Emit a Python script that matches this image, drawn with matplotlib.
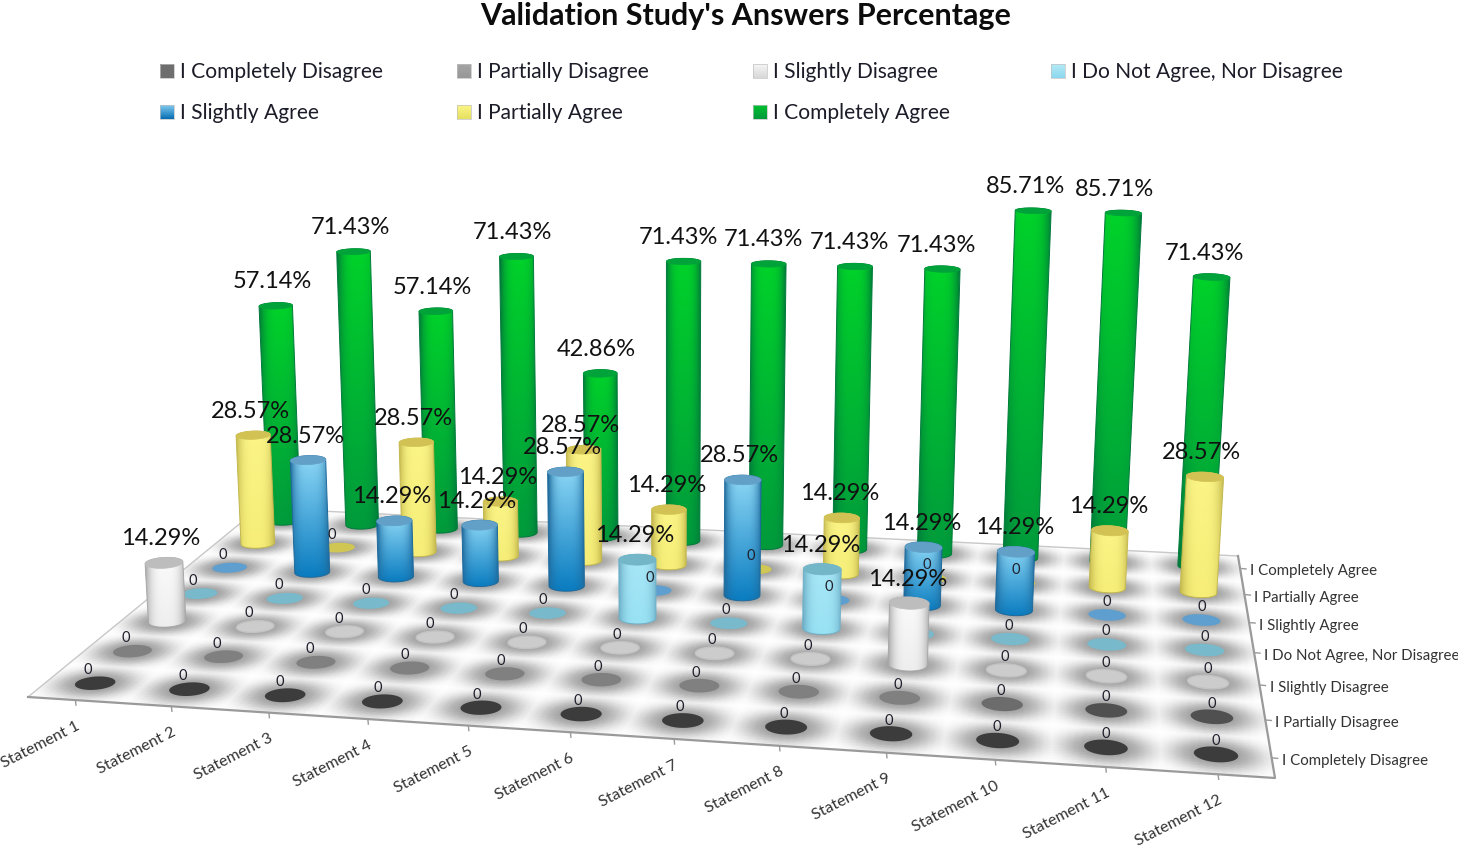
import numpy as np
import matplotlib
matplotlib.use('Agg')
import matplotlib.pyplot as plt
from matplotlib.patches import Polygon, Rectangle

plt.rcParams['font.family'] = ['Lato', 'DejaVu Sans']

# Data
statements = ['Statement %d' % n for n in range(1, 13)]
answers = ['I Completely Disagree', 'I Partially Disagree', 'I Slightly Disagree',
           'I Do Not Agree, Nor Disagree', 'I Slightly Agree', 'I Partially Agree',
           'I Completely Agree']
completely_disagree = [0, 0, 0, 0, 0, 0, 0, 0, 0, 0, 0, 0]
partially_disagree = [0, 0, 0, 0, 0, 0, 0, 0, 0, 0, 0, 0]
slightly_disagree = [14.29, 0, 0, 0, 0, 0, 0, 0, 14.29, 0, 0, 0]
neutral = [0, 0, 0, 0, 0, 14.29, 0, 14.29, 0, 0, 0, 0]
slightly_agree = [0, 28.57, 14.29, 14.29, 28.57, 0, 28.57, 0, 14.29, 14.29, 0, 0]
partially_agree = [28.57, 0, 28.57, 14.29, 28.57, 14.29, 0, 14.29, 0, 0, 14.29, 28.57]
completely_agree = [57.14, 71.43, 57.14, 71.43, 42.86, 71.43, 71.43, 71.43, 71.43, 85.71, 85.71, 71.43]
series = [completely_disagree, partially_disagree, slightly_disagree, neutral,
          slightly_agree, partially_agree, completely_agree]

# colours per series: top centre, bottom centre, edge, cap, disc
top_col = ['#6e6e6e', '#a0a0a0', '#fbfbfb', '#a8e6f6', '#8ed8f6', '#fbf587', '#00d22a']
bot_col = ['#5a5a5a', '#8c8c8c', '#eeeeee', '#98e2f4', '#0a7cc0', '#f6ee78', '#009a3c']
edge_col = ['#333333', '#666666', '#a8a8a8', '#6fb0c8', '#1f6a9c', '#c4b84e', '#007a3a']
cap_col = ['#555555', '#888888', '#bdbdbd', '#73b6c8', '#62a0c8', '#d2c254', '#00a23a']
disc_col = ['#3c3c3c', '#808080', '#cccccc', '#78bacb', '#5f9fcf', '#d0c654', '#00a23a']
legend_top = ['#6e6e6e', '#a4a4a4', '#f6f6f6', '#b4eaf6', '#7cc8ee', '#fbf587', '#00c030']
legend_bot = ['#6e6e6e', '#989898', '#d8d8d8', '#8cd8ee', '#0a70b4', '#e6e060', '#009a3c']


def rgb(c):
    return np.array(matplotlib.colors.to_rgb(c))


# perspective of the floor: corners of the box in the picture
x0, y0 = 28, 697    # front left
x1, y1 = 1275, 778  # front right
x2, y2 = 1238, 556  # back right
x3, y3 = 259, 508   # back left
det = (x1 - x2) * (y3 - y2) - (x3 - x2) * (y1 - y2)
sx, sy = x0 - x1 + x2 - x3, y0 - y1 + y2 - y3
g = (sx * (y3 - y2) - (x3 - x2) * sy) / det
h = ((x1 - x2) * sy - sx * (y1 - y2)) / det
a, b = x1 - x0 + g * x1, x3 - x0 + h * x3
d, e = y1 - y0 + g * y1, y3 - y0 + h * y3
vz_x, vx = -0.00048, 667   # lean of the bars
vz_y, vy = -0.00085, 5824  # height of the bars


def project(u, v, z=0.0):
    U, V = np.asarray(u) / 12.0, np.asarray(v) / 7.0
    w = g * U + h * V + 1
    return ((a * U + b * V + x0 + vz_x * vx * z) / (w + vz_x * z),
            (d * U + e * V + y0 + vz_y * vy * z) / (w + vz_y * z))


def ring(i, j, z, r=0.2):
    t = np.linspace(0, 2 * np.pi, 73)
    return project(i + 0.5 + r * np.cos(t), j + 0.5 + r * np.sin(t), z)


fig = plt.figure(figsize=(14.58, 8.46), dpi=100)
ax = fig.add_axes([0, 0, 1, 1])

# floor with the soft dark patches under every cell
uu = np.linspace(0, 12, 12 * 14 + 1)
vv = np.linspace(0, 7, 7 * 14 + 1)
U, V = np.meshgrid(uu, vv)
du = U - np.floor(np.minimum(U, 11.999)) - 0.5
dv = V - np.floor(np.minimum(V, 6.999)) - 0.5
shade = 1 - 0.4 * np.exp(-((du ** 2 + dv ** 2) / 0.17) ** 1.5)
fx, fy = project(U, V)
ax.pcolormesh(fx, fy, shade, shading='gouraud', cmap='gray', vmin=0, vmax=1, zorder=1)

# box edges and ticks
ax.plot(*project([0, 0, 12], [0, 7, 7]), color='#c8c8c8', lw=1, zorder=2)
ax.plot(*project([0, 12, 12], [0, 0, 7]), color='#9a9a9a', lw=1.6, zorder=2)
for i in range(12):
    tx, ty = project(i + 0.5, 0)
    ax.plot([tx, tx + 0.5], [ty, ty + 5], color='#9a9a9a', lw=1, zorder=2)
    ax.text(tx + 3, ty + 25, statements[i], rotation=27, rotation_mode='anchor', ha='right',
            va='center', fontsize=11.5, color='#333333', zorder=50)
for j in range(7):
    tx, ty = project(12, j + 0.5)
    ax.plot([tx, tx + 6], [ty, ty + 0.5], color='#9a9a9a', lw=1, zorder=2)
    ax.text(tx + 10, ty + 3, answers[j], ha='left', va='center', fontsize=10.8,
            color='#333333', zorder=50)

# cells are painted from the back of the floor to the front
cells = [(i, j) for i in range(12) for j in range(7)]
cells.sort(key=lambda c: project(c[0] + 0.5, c[1] + 0.5)[1])

z = 10
for i, j in cells:
    val = series[j][i]
    z += 1
    bx, by = ring(i, j, 0)
    if val == 0:
        if j == 2:
            ax.fill(bx, by, facecolor=disc_col[j], edgecolor='#c2c2c2', lw=1, zorder=z)
        elif j == 1 and i >= 9:
            # the last partially disagree discs are darker in the picture
            ax.fill(bx, by, facecolor='#6c6c6c' if i == 9 else '#505050', edgecolor='none', zorder=z)
        else:
            ax.fill(bx, by, facecolor=disc_col[j], edgecolor='none', zorder=z)
        continue
    tx, ty = ring(i, j, val)
    # outline of the cylinder: upper half of the top ring, lower half of the base ring
    il, ir = np.argmin(bx), np.argmax(bx)
    tl, tr = np.argmin(tx), np.argmax(tx)
    top_pts = sorted(zip(tx, ty), key=lambda p: p[0])
    upper = [p for p in top_pts if p[1] <= np.interp(p[0], [tx[tl], tx[tr]], [ty[tl], ty[tr]])]
    base_pts = sorted(zip(bx, by), key=lambda p: -p[0])
    lower = [p for p in base_pts if p[1] >= np.interp(p[0], [bx[il], bx[ir]], [by[il], by[ir]])]
    outline = np.array(upper + lower)

    xx = np.linspace(-1, 1, 48)
    yy = np.linspace(0, 1, 64)[:, None, None]
    prof = (1 - np.abs(xx) ** 3.2)[None, :, None]
    centre = rgb(top_col[j])[None, None, :] * (1 - yy) + rgb(bot_col[j])[None, None, :] * yy
    img = rgb(edge_col[j])[None, None, :] * (1 - prof) + centre * prof
    left, right = outline[:, 0].min(), outline[:, 0].max()
    topy, boty = outline[:, 1].min(), outline[:, 1].max()
    im = ax.imshow(img, extent=(left, right, boty, topy), aspect='auto', origin='upper',
                   interpolation='bilinear', zorder=z)
    clip = Polygon(outline, closed=True, transform=ax.transData)
    im.set_clip_path(clip)
    ax.add_patch(Polygon(outline, closed=True, fill=False, edgecolor=edge_col[j], lw=0.7, zorder=z))
    ax.fill(tx, ty, facecolor=cap_col[j], edgecolor=cap_col[j], lw=0.5, zorder=z)

# data labels on top of everything
for i, j in cells:
    val = series[j][i]
    lx, ly = project(i + 0.5, j + 0.5, val)
    if val == 0:
        ax.text(lx - 7 * (1 - i / 11), ly - 13, '0', ha='center', va='center', fontsize=10.5,
                color='#20202c', zorder=60)
    else:
        shift = -3 + 3 * i / 11 - 9 * (i / 11) * (val / 85)
        ax.text(lx + shift, ly - 24, '%.2f%%' % val, ha='center', va='center', fontsize=17,
                color='#111111', zorder=61)

# title and legend
ax.text(746, 16.5, "Validation Study's Answers Percentage", ha='center', va='center', fontsize=22,
        fontweight='bold', color='#0c0c0c', zorder=70)
leg_x = [160, 457, 753, 1051]
leg_y = [71, 112]
for n, name in enumerate(answers):
    lx = leg_x[n % 4]
    ly = leg_y[n // 4]
    grad = np.linspace(0, 1, 16)[:, None, None]
    img = rgb(legend_top[n])[None, None, :] * (1 - grad) + rgb(legend_bot[n])[None, None, :] * grad
    ax.imshow(img, extent=(lx, lx + 14, ly + 7, ly - 7), aspect='auto', zorder=70)
    ax.add_patch(Rectangle((lx, ly - 7), 14, 14, fill=False, edgecolor='#c0c0c0', lw=0.5, zorder=71))
    ax.text(lx + 20, ly + 1, name, ha='left', va='center', fontsize=15.1, color='#1c1c28', zorder=70)

ax.set_xlim(0, 1458)
ax.set_ylim(846, 0)
ax.axis('off')
fig.savefig('out.png', dpi=100, facecolor='white')
